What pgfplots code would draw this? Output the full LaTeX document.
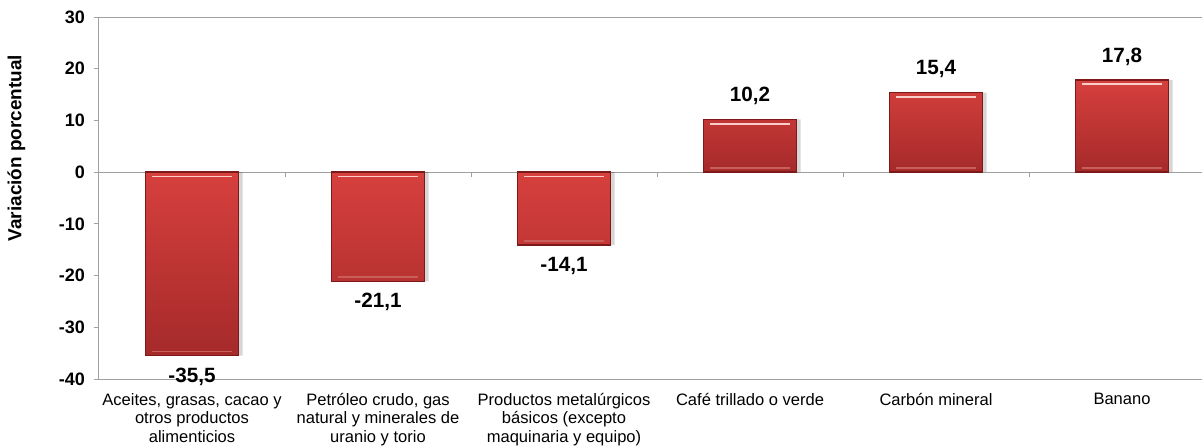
\documentclass[border=0pt]{standalone}
\usepackage{pgfplots}
\pgfplotsset{compat=1.18}
\usepackage{pgfplotstable}
\usepackage{fontspec}
\setmainfont{Liberation Sans}
\definecolor{bartop}{RGB}{214,64,61}
\definecolor{barbot}{RGB}{165,42,42}
\definecolor{bardraw}{RGB}{125,25,25}
\definecolor{hilite}{RGB}{250,205,200}
\definecolor{lowlite}{RGB}{200,95,90}
\definecolor{axisgray}{RGB}{160,160,160}
\pgfplotstableread{
x y lab
3 10.2 10,2
4 15.4 15,4
5 17.8 17,8
}\postab
\pgfplotstableread{
x y lab
0 -35.5 -35,5
1 -21.1 -21,1
2 -14.1 -14,1
}\negtab
\pgfplotstableread{
x y
0 0
1 0
2 0
3 10.2
4 15.4
5 17.8
}\toptab
\pgfplotstableread{
x y
0 -35.5
1 -21.1
2 -14.1
3 0
4 0
5 0
}\bottab
\begin{document}
\begin{tikzpicture}
\begin{axis}[
  name=ax,
  scale only axis, width=827.25pt, height=271.5pt,
  xmin=-0.5, xmax=5.43, ymin=-40, ymax=30,
  ytick={-40,-30,...,30},
  xtick={0,...,5},
  xticklabels={{Aceites, grasas, cacao y\\otros productos\\alimenticios},
               {Petróleo crudo, gas\\natural y minerales de\\uranio y torio},
               {Productos metalúrgicos\\básicos (excepto\\maquinaria y equipo)},
               {Café trillado o verde},
               {Carbón mineral},
               {Banano}},
  xticklabel style={align=center, font=\fontsize{12.4}{13.9}\selectfont, anchor=north, yshift=-3pt},
  x tick style={draw=none},
  ytick pos=left,
  y tick style={axisgray, line width=0.75pt},
  tick align=outside,
  major tick length=4pt,
  yticklabel style={font=\bfseries\fontsize{13.5}{15}\selectfont, xshift=-3pt},
  /pgf/number format/assume math mode=true,
  axis line style={draw=none},
  ybar, bar width=0.5, bar shift=0pt,
  clip=false,
]
\draw[axisgray, line width=0.75pt] (rel axis cs:0,0) -- (rel axis cs:1,0);
\draw[axisgray, line width=0.75pt] (rel axis cs:0,1) -- (rel axis cs:1,1);
\draw[axisgray, line width=0.75pt] (rel axis cs:0,0) -- (rel axis cs:0,1);
\draw[axisgray, line width=0.75pt] (axis cs:-0.5,0) -- (axis cs:5.43,0);
\pgfplotsinvokeforeach{0.5,1.5,2.5,3.5,4.5}{
  \draw[axisgray, line width=0.75pt] (axis cs:#1,0) -- ([yshift=-3.5pt]axis cs:#1,0);
}
% shadows
\addplot[fill=black, fill opacity=0.16, draw=none, bar shift=3pt] table[x=x,y=y] {\postab};
\addplot[fill=black, fill opacity=0.16, draw=none, bar shift=3pt] table[x=x,y=y] {\negtab};
% bars
\addplot[top color=bartop, bottom color=barbot, draw=bardraw, line width=1.1pt,
  point meta=explicit symbolic, nodes near coords,
  nodes near coords style={anchor=south, yshift=7pt, font=\bfseries\fontsize{15.5}{17}\selectfont, text=black}]
  table[x=x,y=y,meta=lab] {\postab};
\addplot[top color=bartop, bottom color=barbot, draw=bardraw, line width=1.1pt,
  point meta=explicit symbolic, nodes near coords,
  nodes near coords style={anchor=north, yshift=-5pt, font=\bfseries\fontsize{15.5}{17}\selectfont, text=black}]
  table[x=x,y=y,meta=lab] {\negtab};
% bevel highlights
\addplot[only marks, mark=-, mark size=30pt,
  mark options={draw=hilite, line width=1.3pt, yshift=-3.2pt}] table[x=x,y=y] {\toptab};
\addplot[only marks, mark=-, mark size=30pt,
  mark options={draw=lowlite, line width=1.1pt, yshift=3.2pt}] table[x=x,y=y] {\bottab};
\node[rotate=90, font=\bfseries\fontsize{14.2}{16}\selectfont] at ([xshift=-62pt]rel axis cs:0,0.638) {Variación porcentual};
\end{axis}
\pgfresetboundingbox
\useasboundingbox (-74.25pt,-51pt) rectangle (827.25pt,284.25pt);
\end{tikzpicture}
\end{document}
